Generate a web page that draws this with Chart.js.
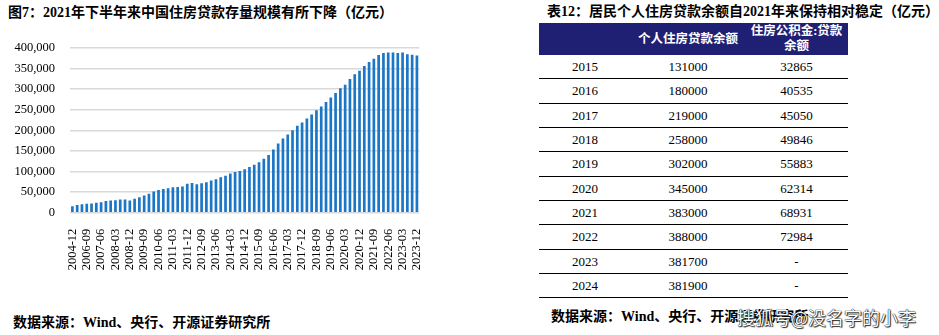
<!DOCTYPE html>
<html>
<head>
<meta charset="utf-8">
<script src="https://cdn.jsdelivr.net/npm/chart.js@4.4.1/dist/chart.umd.min.js"></script>
<style>
  body {
    margin: 0;
    width: 939px;
    height: 335px;
    background: #fff;
    position: relative;
    overflow: hidden;
    font-family: "Liberation Serif", "Noto Sans CJK SC", serif;
    color: #000;
  }
  .title, .source {
    position: absolute;
    font-weight: bold;
    font-size: 14px;
    line-height: 18px;
    white-space: nowrap;
  }
  #chartBox {
    position: absolute;
    left: 0;
    top: 0;
    width: 440px;
    height: 270px;
  }
  #tableHead {
    position: absolute;
    left: 539px;
    top: 23px;
    width: 309px;
    height: 32px;
    background: #1f1f73;
    color: #fff;
    font-weight: bold;
    font-size: 12.5px;
  }
  #tableHead div {
    position: absolute;
    text-align: center;
    line-height: 15px;
  }
  .row {
    position: absolute;
    left: 539px;
    width: 309px;
    height: 24.4px;
    box-sizing: border-box;
    border-bottom: 1.5px solid #000;
    font-size: 13px;
  }
  .row span {
    position: absolute;
    top: 0;
    line-height: 23px;
    text-align: center;
  }
  .mark {
    position: absolute;
    left: 737px;
    top: 305px;
    font-family: "Noto Sans CJK SC", sans-serif;
    font-size: 18px;
    line-height: 24px;
    color: #fff;
    white-space: nowrap;
    text-shadow: 0 0 1px #000, 0 0 1px #000, 1px 1px 1px #333;
  }
</style>
</head>
<body>

<div class="title" style="left:8px; top:4px;">图7：2021年下半年来中国住房贷款存量规模有所下降（亿元）</div>
<div id="chartBox"><canvas id="loanChart"></canvas></div>
<div class="source" style="left:13px; top:314px;">数据来源：Wind、央行、开源证券研究所</div>

<div class="title" style="left:547px; top:3px;">表12：居民个人住房贷款余额自2021年来保持相对稳定（亿元）</div>
<div id="tableHead">
  <div style="left:92px; width:114px; top:9px;">个人住房贷款余额</div>
  <div style="left:206px; width:103px; top:1px;">住房公积金:贷款<br>余额</div>
</div>
<div id="tableRows"></div>
<div class="source" style="left:551px; top:308px;">数据来源：Wind、央行、开源证券研究所</div>
<div class="mark">搜狐号@没名字的小李</div>

<script>
// quarterly housing loan balance (亿元)
const periods = [
  '2004-12', '2005-12', '2006-06', '2006-09', '2006-12',
  '2007-03', '2007-06', '2007-09', '2007-12',
  '2008-03', '2008-06', '2008-09', '2008-12',
  '2009-03', '2009-06', '2009-09', '2009-12',
  '2010-03', '2010-06', '2010-09', '2010-12',
  '2011-03', '2011-06', '2011-09', '2011-12',
  '2012-03', '2012-06', '2012-09', '2012-12',
  '2013-03', '2013-06', '2013-09', '2013-12',
  '2014-03', '2014-06', '2014-09', '2014-12',
  '2015-03', '2015-06', '2015-09', '2015-12',
  '2016-03', '2016-06', '2016-09', '2016-12',
  '2017-03', '2017-06', '2017-09', '2017-12',
  '2018-03', '2018-06', '2018-09', '2018-12',
  '2019-03', '2019-06', '2019-09', '2019-12',
  '2020-03', '2020-06', '2020-09', '2020-12',
  '2021-03', '2021-06', '2021-09', '2021-12',
  '2022-03', '2022-06', '2022-09', '2022-12',
  '2023-03', '2023-06', '2023-09', '2023-12'
];

const loanBalance = [
  15900, 18400, 20800, 21500, 22500,
  24000, 25600, 28400, 29800,
  30000, 32000, 32200, 29500,
  34000, 37500, 42000, 46000,
  51500, 55000, 57500, 59500,
  62000, 62500, 63500, 70500,
  72000, 69000, 71500, 74000,
  78000, 81500, 86000, 90000,
  95000, 99000, 101500, 105500,
  111000, 116500, 122500, 131000,
  140000, 153500, 168000, 180000,
  190000, 200500, 211000, 219000,
  229000, 238500, 249000, 258000,
  269000, 279500, 291000, 302000,
  311000, 325000, 336000, 345000,
  356000, 366000, 374000, 383000,
  388000, 389000, 389000, 388000,
  389000, 385000, 383500, 381700
];

const yTicks = [0, 50000, 100000, 150000, 200000, 250000, 300000, 350000, 400000];

// table on the right
const tableYears = ['2015', '2016', '2017', '2018', '2019', '2020', '2021', '2022', '2023', '2024'];
const personalLoans = ['131000', '180000', '219000', '258000', '302000', '345000', '383000', '388000', '381700', '381900'];
const fundLoans = ['32865', '40535', '45050', '49846', '55883', '62314', '68931', '72984', '-', '-'];

let rows = document.getElementById('tableRows');
for (let i = 0; i < tableYears.length; i++) {
  let row = document.createElement('div');
  row.className = 'row';
  row.style.top = (55 + i * 24.33) + 'px';
  row.innerHTML = `
    <span style="left:0; width:92px;">${tableYears[i]}</span>
    <span style="left:92px; width:114px;">${personalLoans[i]}</span>
    <span style="left:206px; width:103px;">${fundLoans[i]}</span>
  `;
  rows.appendChild(row);
}

const serif = 'Liberation Serif';

const loanChart = new Chart(document.getElementById('loanChart'), {
  type: 'bar',
  data: {
    labels: periods,
    datasets: [{
      data: loanBalance,
      backgroundColor: '#1a76c6',
      barPercentage: 0.56,
      categoryPercentage: 1
    }]
  },
  options: {
    responsive: true,
    maintainAspectRatio: false,
    animation: false,
    layout: {
      padding: { top: 48, left: 0, right: 10, bottom: 0 }
    },
    plugins: {
      legend: { display: false },
      tooltip: { enabled: false }
    },
    scales: {
      x: {
        grid: { display: false },
        border: { display: false },
        ticks: {
          autoSkip: false,
          minRotation: 90,
          maxRotation: 90,
          padding: 8,
          color: '#000',
          font: { family: serif, size: 12.5 },
          callback: function(value, index) {
            // only every third period gets a label
            return index % 3 === 0 ? this.getLabelForValue(value) : '';
          }
        },
        afterFit: (scale) => { scale.height = 57.3; }
      },
      y: {
        min: 0,
        max: 400000,
        grid: { color: '#d9d9d9', lineWidth: 1.5, drawTicks: false },
        border: { display: false },
        afterBuildTicks: (scale) => {
          scale.ticks = yTicks.map(v => ({ value: v }));
        },
        ticks: {
          padding: 15,
          color: '#000',
          font: { family: serif, size: 12.5 },
          callback: (value) => value.toLocaleString('en-US')
        },
        afterFit: (scale) => { scale.width = 70; }
      }
    }
  }
});
</script>
</body>
</html>
